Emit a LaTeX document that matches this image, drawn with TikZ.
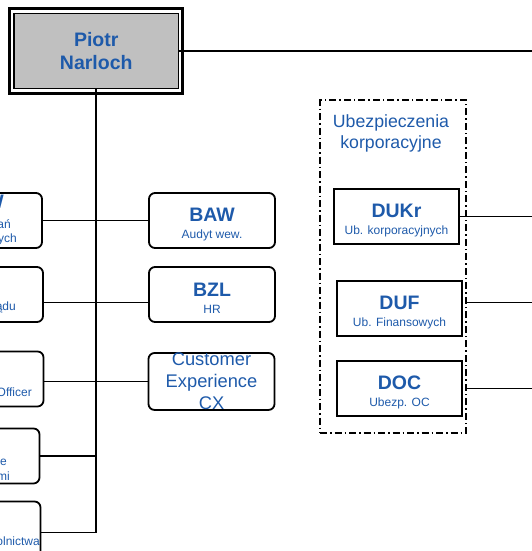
\documentclass[tikz,border=0pt]{standalone}
\usepackage{fontspec}
\setmainfont{Liberation Sans}
\usetikzlibrary{positioning}
\definecolor{orgblue}{RGB}{30,90,170}
\definecolor{bossgray}{RGB}{192,192,192}
\newcommand{\headfont}{\fontsize{19.5}{21}\selectfont\bfseries}
\newcommand{\subfont}{\fontsize{12}{16.5}\selectfont}
\newcommand{\unittext}[2]{{\headfont\rule{0pt}{21pt}#1}\\#2}

\begin{document}
\begin{tikzpicture}[x=1pt, y=-1pt,
    unit/.style={rectangle, draw=black, line width=1.8pt, rounded corners=6pt, minimum width=126pt, minimum height=55pt, inner sep=0pt, outer sep=0pt, align=center, text=orgblue, font=\subfont},
    dept/.style={rectangle, draw=black, line width=1.8pt, minimum width=125pt, minimum height=55pt, inner sep=0pt, outer sep=0pt, align=center, text=orgblue, font=\subfont},
    frag/.style={anchor=base east, inner sep=0pt, text=orgblue, font=\subfont},
    link/.style={line width=1.8pt}]
    \useasboundingbox (0,0) rectangle (531,551);

    \node [rectangle, draw=black, line width=1.5pt, fill=bossgray, minimum width=164.5pt, minimum height=75pt, align=center, text=orgblue, font=\fontsize{19.5}{23}\selectfont\bfseries] (piotr) at (96.25,51) {Piotr\\Narloch};
    \draw [line width=3.3pt] ([shift={(-3.5,-4.5)}]piotr.north west) rectangle ([shift={(3.5,4)}]piotr.south east);
    \coordinate (rightend) at (535,51);

    \node [unit] (baw) at (212,220.5) {\unittext{BAW}{Audyt wew.}};
    \node [unit, below=19pt of baw] (bzl) {\unittext{BZL}{HR}};
    \node [unit, font=\fontsize{18.3}{22}\selectfont, below=31pt of bzl, xshift=-0.5pt] (cx) {Customer\\Experience\\CX};

    \node [unit, left=107pt of baw] (lb1) {};
    \node [unit, left=106pt of bzl] (lb2) {};
    \node [unit, left=105pt of cx, yshift=2.5pt] (lb3) {};
    \node [unit, below=22pt of lb3, xshift=-4pt] (lb4) {};
    \node [unit, minimum height=62pt, below=18pt of lb4, xshift=1pt] (lb5) {};

    \node [frag, font=\headfont] (lb1head) at (4,208) {W};
    \node [frag] (lb1suba) at (11,228) {ań};
    \node [frag] (lb1subb) at (17,242) {ych};
    \node [frag] (lb2sub) at (16,310) {ądu};
    \node [frag] (lb3sub) at (32,396) {Officer};
    \node [frag] (lb4suba) at (7,465) {e};
    \node [frag] (lb4subb) at (10,480) {mi};
    \node [frag] (lb5sub) at (40,545) {olnictwa};

    \node [rectangle, draw=black, line width=1.5pt, dash pattern=on 7pt off 3pt on 1.5pt off 3pt, minimum width=146pt, minimum height=333pt] (ubezp) at (393,266.5) {};
    \node [text=orgblue, font=\fontsize{17.7}{21}\selectfont, align=center] (ubezptitle) at (391,133.5) {Ubezpieczenia\\korporacyjne};
    \node [dept] (dukr) at (396.5,216.5) {\unittext{DUKr}{Ub. korporacyjnych}};
    \node [dept, below=37pt of dukr, xshift=3pt] (duf) {\unittext{DUF}{Ub. Finansowych}};
    \node [dept, below=25pt of duf] (doc) {\unittext{DOC}{Ubezp. OC}};

    \draw [link] (piotr.east) -- (rightend);
    \draw [link] (piotr.south) |- (lb5.east);
    \draw [link] (lb1.east) -- (baw.west);
    \draw [link] ([yshift=-8pt]lb2.east) -- ([yshift=-8pt]bzl.west);
    \draw [link] (lb3.east |- cx.west) -- (cx.west);
    \draw [link] (lb4.east) -- (lb4.east -| piotr.south);
    \draw [link] (dukr.east) -- (dukr.east -| rightend);
    \draw [link] ([yshift=6pt]duf.east -| ubezp.east) -- ([yshift=6pt]duf.east -| rightend);
    \draw [link] (doc.east -| ubezp.east) -- (doc.east -| rightend);
\end{tikzpicture}
\end{document}
